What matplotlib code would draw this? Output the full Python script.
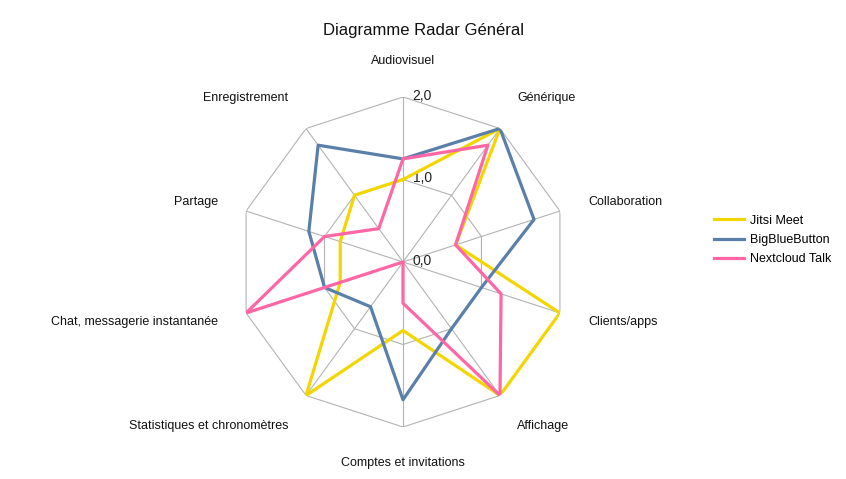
import numpy as np
import matplotlib
matplotlib.use('Agg')
import matplotlib.pyplot as plt

plt.rcParams['font.family'] = ['Liberation Sans', 'DejaVu Sans']

categories = [
    'Audiovisuel', 'Générique', 'Collaboration', 'Clients/apps', 'Affichage',
    'Comptes et invitations', 'Statistiques et chronomètres',
    'Chat, messagerie instantanée', 'Partage', 'Enregistrement',
]
jitsi = [1.0, 2.0, 0.67, 2.0, 2.0, 0.83, 2.0, 0.8, 0.8, 1.0]
bbb = [1.25, 2.0, 1.67, 1.0, 1.0, 1.67, 0.67, 1.0, 1.2, 1.75]
nextcloud = [1.25, 1.75, 0.67, 1.25, 2.0, 0.5, 0.0, 2.0, 1.0, 0.5]
series_names = ['Jitsi Meet', 'BigBlueButton', 'Nextcloud Talk']
series_colors = ['#F2D600', '#5A80AA', '#FF66A6']
ring_values = [1.0, 2.0]
tick_labels = ['0,0', '1,0', '2,0']

n = len(categories)
angles = np.arange(n) * 2 * np.pi / n
closed = np.append(angles, angles[0])

fig = plt.figure(figsize=(8.46, 4.79), dpi=100)
ax = fig.add_axes([238 / 846, 52 / 479, 330 / 846, 330 / 479], projection='polar')
ax.set_theta_offset(np.pi / 2)
ax.set_theta_direction(-1)
ax.set_ylim(0, 2)
ax.grid(False)
ax.spines['polar'].set_visible(False)
ax.set_xticks([])
ax.set_yticks([])
ax.patch.set_alpha(0)

grid_color = '#b3b3b3'
for rv in ring_values:
    ax.plot(closed, [rv] * (n + 1), color=grid_color, lw=0.8, zorder=1)
for a in angles:
    ax.plot([a, a], [0, 2], color=grid_color, lw=0.8, zorder=1)

for i, rv in enumerate([0.0] + ring_values):
    ax.annotate(tick_labels[i], (0, rv), xytext=(7, 1), textcoords='offset points',
                ha='left', va='center', fontsize=10, color='#222222')

# labels sit outside the outer ring, box corner toward the spoke end
for a, name in zip(angles, categories):
    s, c = np.sin(a), np.cos(a)
    if abs(s) < 1e-6:
        ha = 'center'
    elif s > 0:
        ha = 'left'
    else:
        ha = 'right'
    if abs(c) < 0.5:
        va = 'center'
    else:
        va = 'bottom' if c > 0 else 'top'
    ax.text(a, 2.36, name, ha=ha, va=va, fontsize=9, color='#111111')

handles = []
for vals, name, col in zip([jitsi, bbb, nextcloud], series_names, series_colors):
    h, = ax.plot(closed, vals + vals[:1], color=col, lw=2.3, label=name, zorder=3)
    handles.append(h)

fig.legend(handles=handles, loc='center left', bbox_to_anchor=(703 / 846, 1 - 240 / 479),
           frameon=False, fontsize=9, handlelength=2.4, handletextpad=0.45,
           labelspacing=0.6)

fig.text(0.5, 1 - 30 / 479, 'Diagramme Radar Général', ha='center', va='center',
         fontsize=12, color='#111111')

fig.savefig('out.png', dpi=100)
